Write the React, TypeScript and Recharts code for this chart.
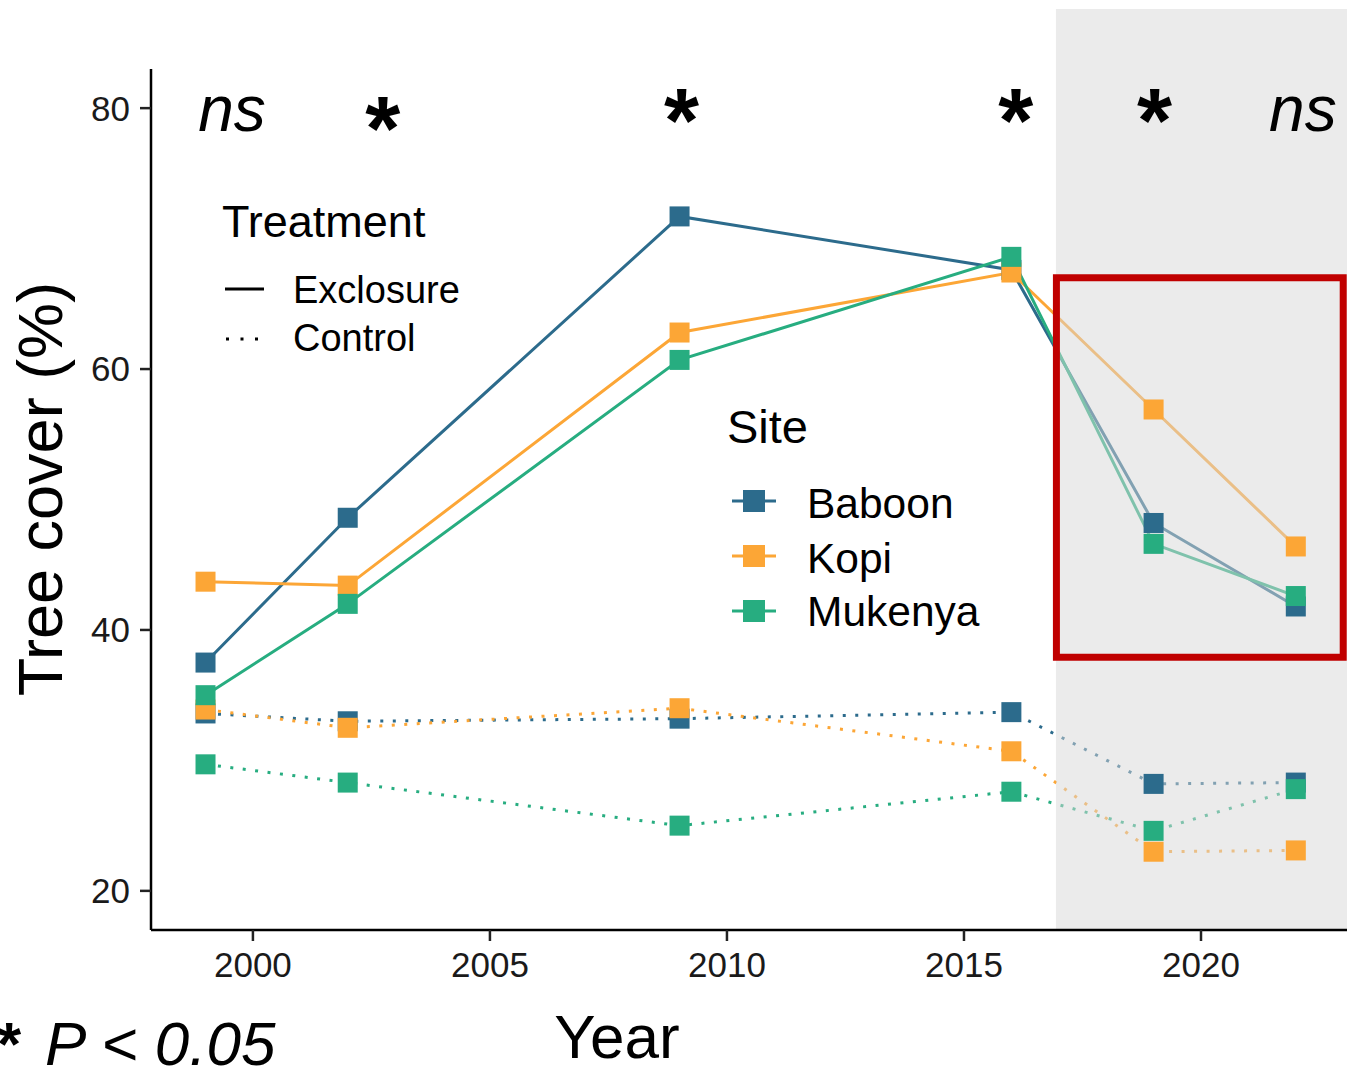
import React from "react";
import {
  LineChart,
  Line,
  XAxis,
  YAxis,
  ReferenceArea,
  ReferenceDot,
  Label,
} from "recharts";

const FONT = "'Liberation Sans', Arial, Helvetica, sans-serif";

// survey years
const years = [1999, 2002, 2009, 2016, 2019, 2022];

// tree cover (%)
const baboonExclosure = [37.5, 48.6, 71.7, 67.6, 48.2, 41.8];
const kopiExclosure = [43.7, 43.4, 62.8, 67.4, 56.9, 46.4];
const mukenyaExclosure = [35.0, 42.0, 60.7, 68.6, 46.6, 42.6];
const baboonControl = [33.6, 33.0, 33.2, 33.7, 28.2, 28.3];
const kopiControl = [33.9, 32.5, 34.0, 30.7, 23.0, 23.1];
const mukenyaControl = [29.7, 28.3, 25.0, 27.6, 24.6, 27.8];

const xTicks = [2000, 2005, 2010, 2015, 2020];
const yTicks = [20, 40, 60, 80];

// significance marks above each survey
const markYears = [1999.56, 2002.74, 2009.04, 2016.09, 2019.02, 2022.15];
const markLabels = ["ns", "*", "*", "*", "*", "ns"];
const markLevels = [78.25, 76.0, 76.6, 76.6, 76.6, 78.25];

const sites = ["Baboon", "Kopi", "Mukenya"];
const siteColors = ["#2c6b8c", "#fca636", "#27ad80"];

const chartData = years.map((year, i) => ({
  year,
  baboonEx: baboonExclosure[i],
  kopiEx: kopiExclosure[i],
  mukenyaEx: mukenyaExclosure[i],
  baboonCt: baboonControl[i],
  kopiCt: kopiControl[i],
  mukenyaCt: mukenyaControl[i],
}));

const seriesKeys = [
  { key: "baboonEx", color: siteColors[0], dotted: false },
  { key: "baboonCt", color: siteColors[0], dotted: true },
  { key: "kopiEx", color: siteColors[1], dotted: false },
  { key: "kopiCt", color: siteColors[1], dotted: true },
  { key: "mukenyaEx", color: siteColors[2], dotted: false },
  { key: "mukenyaCt", color: siteColors[2], dotted: true },
];

const squareDot = (color: string) => (props: any) => {
  const { cx, cy, index } = props;
  if (cx == null || cy == null) return <g key={index} />;
  return <rect key={index} x={cx - 10} y={cy - 10} width={20} height={20} fill={color} />;
};

const tickStyle = { fill: "#1a1a1a", fontSize: 35, fontFamily: FONT };

export default function App() {
  return (
    <div style={{ position: "absolute", left: 0, top: 0, width: 1347, height: 1068, background: "#fff" }}>
      <LineChart
        width={1347}
        height={1068}
        data={chartData}
        margin={{ top: 69, right: 0, bottom: 0, left: 0 }}
      >
        {/* points first, lines on top, like the original */}
        {seriesKeys.map((s) => (
          <Line
            key={s.key + "-pts"}
            dataKey={s.key}
            stroke="none"
            dot={squareDot(s.color)}
            activeDot={false}
            isAnimationActive={false}
            legendType="none"
          />
        ))}
        {seriesKeys.map((s) => (
          <Line
            key={s.key}
            type="linear"
            dataKey={s.key}
            stroke={s.color}
            strokeWidth={3}
            strokeDasharray={s.dotted ? "3 9.5" : undefined}
            dot={false}
            activeDot={false}
            isAnimationActive={false}
          />
        ))}
        <ReferenceArea
          x1={2016.94}
          x2={2023.08}
          y1={17}
          y2={87.6}
          ifOverflow="visible"
          fill="#d7d7d7"
          fillOpacity={0.5}
          stroke="none"
          zIndex={450}
        />
        <ReferenceArea
          x1={2016.95}
          x2={2023.0}
          y1={37.9}
          y2={67.0}
          ifOverflow="visible"
          fill="none"
          stroke="#c00000"
          strokeWidth={7}
          zIndex={460}
        />
        <XAxis
          dataKey="year"
          type="number"
          domain={[1997.85, 2023.08]}
          ticks={xTicks}
          allowDataOverflow
          height={138}
          tickSize={11}
          tickMargin={11}
          tick={tickStyle}
          axisLine={{ stroke: "#000", strokeWidth: 2.5 }}
          tickLine={{ stroke: "#222", strokeWidth: 2.5 }}
        >
          <Label
            content={() => (
              <text x={617} y={1058} textAnchor="middle" fontSize={62} fontFamily={FONT} fill="#000">
                Year
              </text>
            )}
          />
        </XAxis>
        <YAxis
          type="number"
          domain={[17, 83]}
          ticks={yTicks}
          allowDataOverflow
          width={151}
          tickSize={11}
          tickMargin={10}
          tick={tickStyle}
          axisLine={{ stroke: "#000", strokeWidth: 2.5 }}
          tickLine={{ stroke: "#222", strokeWidth: 2.5 }}
        >
          <Label
            content={() => (
              <text
                x={62}
                y={489}
                transform="rotate(-90, 62, 489)"
                textAnchor="middle"
                fontSize={63}
                fontFamily={FONT}
                fill="#000"
              >
                Tree cover (%)
              </text>
            )}
          />
        </YAxis>
        {markYears.map((yr, i) => (
          <ReferenceDot
            key={"mark" + i}
            x={yr}
            y={markLevels[i]}
            r={0}
            ifOverflow="visible"
            zIndex={2000}
            shape={(p: any) =>
              markLabels[i] === "ns" ? (
                <text x={p.cx} y={p.cy} textAnchor="middle" fontSize={64} fontStyle="italic" fontFamily={FONT} fill="#000">
                  ns
                </text>
              ) : (
                <text x={p.cx} y={p.cy} textAnchor="middle" fontSize={90} fontWeight="bold" fontFamily={FONT} fill="#000">
                  *
                </text>
              )
            }
          />
        ))}
      </LineChart>

      {/* legends and footnote */}
      <svg
        width={1347}
        height={1068}
        style={{ position: "absolute", left: 0, top: 0, pointerEvents: "none" }}
        fontFamily={FONT}
      >
        <text x={222} y={237} fontSize={45} fill="#000">Treatment</text>
        <line x1={225} y1={289} x2={264} y2={289} stroke="#000" strokeWidth={3} />
        <text x={293} y={303} fontSize={38} fill="#000">Exclosure</text>
        <line x1={226} y1={339} x2={264} y2={339} stroke="#000" strokeWidth={3} strokeDasharray="3 11.5" />
        <text x={293} y={351} fontSize={38} fill="#000">Control</text>

        <text x={727} y={443} fontSize={47} fill="#000">Site</text>
        {sites.map((name, i) => {
          const cy = [501, 556, 611][i];
          const base = [518, 573, 626][i];
          return (
            <g key={name}>
              <line x1={732} y1={cy} x2={776} y2={cy} stroke={siteColors[i]} strokeWidth={3} />
              <rect x={743} y={cy - 11} width={22} height={22} fill={siteColors[i]} />
              <text x={807} y={base} fontSize={42.5} fill="#000">{name}</text>
            </g>
          );
        })}

        <text x={-3} y={1065} fontSize={62} fontWeight="bold" fill="#000">*</text>
        <text x={45} y={1065} fontSize={62} fontStyle="italic" fill="#000">P &lt; 0.05</text>
      </svg>
    </div>
  );
}
